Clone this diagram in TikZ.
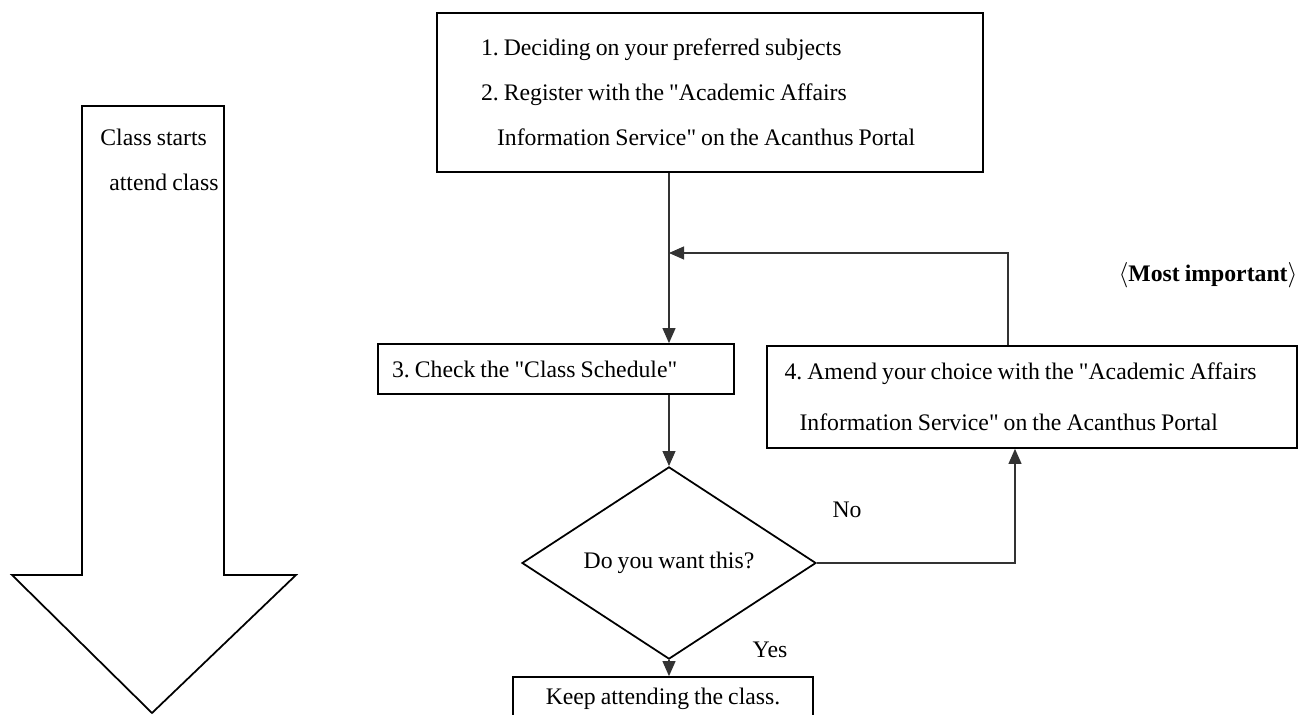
\documentclass[tikz,border=0pt]{standalone}
\usepackage{fontspec}
\setmainfont{Liberation Serif}[Ligatures=TeXOff, WordSpace=0.85]
\usetikzlibrary{shapes.geometric}
\usetikzlibrary{arrows.meta}

\begin{document}
\begin{tikzpicture}[
    every node/.style={font=\fontsize{13.5}{25.6}\selectfont\frenchspacing},
    box/.style={draw, line width=1pt, inner sep=0pt},
    conn/.style={draw=black!80, line width=0.6pt},
    arr/.style={conn, -{Triangle[length=3mm,width=2.6mm]}},
    lbl/.style={inner sep=0pt}]
  \useasboundingbox (0,0) rectangle (26,-14.3);
  \clip (0,0) rectangle (26,-14.3);

  \draw[line width=1pt] (1.64,-2.12) -- (4.48,-2.12) -- (4.48,-11.5) -- (5.92,-11.5)
    -- (3.04,-14.26) -- (0.24,-11.5) -- (1.64,-11.5) -- cycle;
  \node[lbl, anchor=west, align=left] (start) at (2.0,-3.19) {Class starts\\\hspace*{0.18cm}attend class};

  \node[box, minimum width=10.92cm, minimum height=3.18cm, text width=9.16cm, inner xsep=0.88cm, align=flush left] (reg) at (14.2,-1.85)
    {1. Deciding on your preferred subjects\\2. Register with the "Academic Affairs\\\hspace*{0.32cm}Information Service" on the Acanthus Portal};
  \node[box, minimum width=7.12cm, minimum height=1cm, text width=6.56cm, inner xsep=0.28cm, align=flush left] (chk) at (11.12,-7.38)
    {3. Check the "Class Schedule"};
  \node[box, minimum width=10.6cm, minimum height=2.04cm, text width=10.1cm, inner xsep=0.25cm, align=flush left,
    font=\fontsize{13.5}{28.8}\selectfont\frenchspacing] (amend) at (20.64,-7.94)
    {\hspace*{0.1cm}4. Amend your choice with the "Academic Affairs\\\hspace*{0.4cm}Information Service" on the Acanthus Portal};
  \node[box, diamond, minimum width=5.88cm, minimum height=2.96cm] (dec) at (13.38,-11.26) {Do you want this?};
  \node[box, minimum width=6cm, minimum height=0.86cm] (keep) at (13.26,-13.97) {Keep attending the class.};

  \coordinate (join) at (13.38,-5.06);
  \draw[arr] (reg.south -| join) -- (chk.north -| join);
  \draw[arr] (chk.south -| join) -- (dec.north);
  \draw[arr] (dec.south) -- (keep.north -| dec.south);
  \draw[arr] (dec.east) -| ([xshift=-0.34cm]amend.south);
  \draw[arr] ([xshift=-0.48cm]amend.north) |- (join);

  \node[lbl] (no) at (16.94,-10.2) {No};
  \node[lbl] (yes) at (15.4,-13.0) {Yes};
  \node[lbl, font=\fontsize{13.5}{16}\selectfont\bfseries] (note) at (24.16,-5.5) {$\langle$Most important$\rangle$};
\end{tikzpicture}
\end{document}
